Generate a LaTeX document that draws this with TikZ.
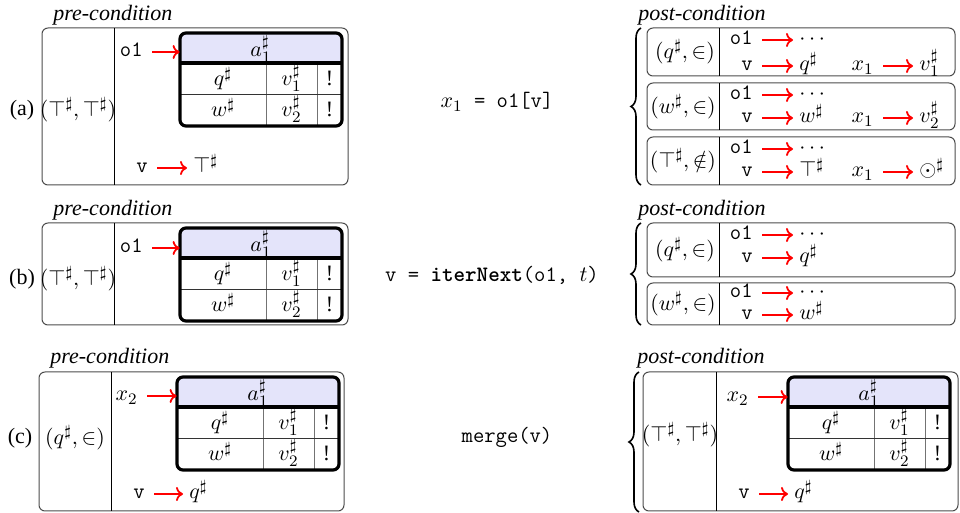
\documentclass[tikz,border=0pt]{standalone}
\usepackage{fontspec}
\setmainfont{Liberation Serif}
\usetikzlibrary{decorations.pathreplacing,arrows.meta}
\definecolor{hdrblue}{RGB}{228,228,250}
\tikzset{
  ttl/.style={font=\fontsize{11}{13}\selectfont\itshape, inner sep=0pt, anchor=west},
  cell/.style={inner sep=0pt, text height=7pt, text depth=2pt},
  hdr/.style={inner sep=0pt, minimum width=81pt, minimum height=15pt},
  var/.style={inner xsep=4.5pt, inner ysep=0pt, text height=7pt, text depth=2pt, anchor=east},
  val/.style={inner xsep=3pt, inner ysep=0pt, text height=7pt, text depth=2pt, anchor=west},
  ptr/.style={red, line width=0.9pt, -{To[length=3.5pt, width=7pt]}},
  box/.style={draw=black!70, rounded corners=3pt, line width=0.5pt},
  frame/.style={line width=1.6pt},
  grid/.style={draw=black!55, line width=0.4pt},
  rowline/.style={draw=black!80, line width=0.5pt},
  brc/.style={decorate, decoration={brace, amplitude=5pt}, line width=0.8pt}
}
% table of the abstract heap cell
\newcommand{\heaptab}[3]{%
  \begin{scope}[shift={(#2,#3)}]
    \begin{scope}
      \clip[rounded corners=3pt] (0,0) rectangle (162,93);
      \fill[hdrblue] (0,0) rectangle (162,30);
    \end{scope}
    \node[hdr] (#1) at (81,15) {};
    \node[cell] (#1a) at (81,19) {$a_1^\sharp$};
    \node[cell] (#1q) at (43,48) {$q^\sharp$};
    \node[cell] (#1v1) at (111.5,48) {$v_1^\sharp$};
    \node[cell] (#1e1) at (149.5,48) {!};
    \node[cell] (#1w) at (43,79) {$w^\sharp$};
    \node[cell] (#1v2) at (111.5,79) {$v_2^\sharp$};
    \node[cell] (#1e2) at (149.5,79) {!};
    \draw[grid] (86,30) -- (86,93) (137,30) -- (137,93);
    \draw[rowline] (0,61.5) -- (162,61.5);
    \draw[frame] (0,30) -- (162,30);
    \draw[frame, rounded corners=3pt] (0,0) rectangle (162,93);
  \end{scope}}
\begin{document}
\begin{tikzpicture}[x=0.5pt, y=-0.5pt, font=\fontsize{11}{13}\selectfont]
\useasboundingbox (0,0) rectangle (960,513);

% (a) pre-condition
\node[ttl] (preA) at (53,15) {pre-condition};
\draw[box] (42,28) rectangle (348,185);
\draw (114,28) -- (114,185);
\node (tagA) at (22,110) {(a)};
\node (condA) at (78,110) {$(\top^\sharp,\top^\sharp)$};
\heaptab{tA}{180}{33}
\node[var] (oA) at (152,52) {\texttt{o1}};
\draw[ptr] (oA) -- (oA -| tA.west);
\node[var] (vA) at (157,168) {\texttt{v}};
\node[val] (topA) at (187,168) {$\top^\sharp$};
\draw[ptr] (vA) -- (topA);

% (a) statement
\node (stmtA) at (497,102) {$x_1$\texttt{ = o1[v]}};

% (a) post-condition
\node[ttl] (postA) at (638,15) {post-condition};
\draw[brc] (641,185) -- (641,28);
\draw[box] (647,28) rectangle (955,76);
\draw[box] (647,83) rectangle (955,130);
\draw[box] (647,137) rectangle (955,185);
\draw (719,28) -- (719,76) (719,83) -- (719,130) (719,137) -- (719,185);
\node (cA1) at (685,52) {$(q^\sharp,\in)$};
\node (cA2) at (683,107) {$(w^\sharp,\in)$};
\node[inner sep=1pt] (cA3) at (683,161) {$(\top^\sharp,\notin)$};
% first case
\node[var] (oA1) at (762,40) {\texttt{o1}};
\node[val] (dA1) at (793,40) {$\cdots$};
\draw[ptr] (oA1) -- (dA1);
\node[var] (vA1) at (762,66) {\texttt{v}};
\node[val] (qA1) at (793,66) {$q^\sharp$};
\draw[ptr] (vA1) -- (qA1);
\node[var] (xA1) at (883,66) {$x_1$};
\node[val] (rA1) at (913,66) {$v_1^\sharp$};
\draw[ptr] (xA1) -- (rA1);
% second case
\node[var] (oA2) at (762,95) {\texttt{o1}};
\node[val] (dA2) at (793,95) {$\cdots$};
\draw[ptr] (oA2) -- (dA2);
\node[var] (vA2) at (762,118) {\texttt{v}};
\node[val] (qA2) at (793,118) {$w^\sharp$};
\draw[ptr] (vA2) -- (qA2);
\node[var] (xA2) at (883,118) {$x_1$};
\node[val] (rA2) at (913,118) {$v_2^\sharp$};
\draw[ptr] (xA2) -- (rA2);
% third case
\node[var] (oA3) at (762,149) {\texttt{o1}};
\node[val] (dA3) at (793,149) {$\cdots$};
\draw[ptr] (oA3) -- (dA3);
\node[var] (vA3) at (762,172) {\texttt{v}};
\node[val] (qA3) at (793,172) {$\top^\sharp$};
\draw[ptr] (vA3) -- (qA3);
\node[var] (xA3) at (883,172) {$x_1$};
\node[val] (rA3) at (913,172) {$\odot^\sharp$};
\draw[ptr] (xA3) -- (rA3);

% (b) pre-condition
\node[ttl] (preB) at (53,210) {pre-condition};
\draw[box] (42,223) rectangle (348,325);
\draw (114,223) -- (114,325);
\node (tagB) at (22,279) {(b)};
\node (condB) at (78,279) {$(\top^\sharp,\top^\sharp)$};
\heaptab{tB}{180}{228}
\node[var] (oB) at (152,248) {\texttt{o1}};
\draw[ptr] (oB) -- (oB -| tB.west);

% (b) statement
\node (stmtB) at (492,275) {\texttt{v = \textbf{iterNext}(o1, }$t$\texttt{)}};

% (b) post-condition
\node[ttl] (postB) at (638,210) {post-condition};
\draw[brc] (641,325) -- (641,223);
\draw[box] (647,223) rectangle (955,277);
\draw[box] (647,283) rectangle (955,325);
\draw (719,223) -- (719,277) (719,283) -- (719,325);
\node (cB1) at (685,250) {$(q^\sharp,\in)$};
\node (cB2) at (683,304) {$(w^\sharp,\in)$};
\node[var] (oB1) at (762,235) {\texttt{o1}};
\node[val] (dB1) at (793,235) {$\cdots$};
\draw[ptr] (oB1) -- (dB1);
\node[var] (vB1) at (762,258) {\texttt{v}};
\node[val] (qB1) at (793,258) {$q^\sharp$};
\draw[ptr] (vB1) -- (qB1);
\node[var] (oB2) at (762,293) {\texttt{o1}};
\node[val] (dB2) at (793,293) {$\cdots$};
\draw[ptr] (oB2) -- (dB2);
\node[var] (vB2) at (762,315) {\texttt{v}};
\node[val] (qB2) at (793,315) {$w^\sharp$};
\draw[ptr] (vB2) -- (qB2);

% (c) pre-condition
\node[ttl] (preC) at (50,358) {pre-condition};
\draw[box] (39,372) rectangle (344,511);
\draw (111,372) -- (111,511);
\node (tagC) at (20,438) {(c)};
\node (condC) at (75,438) {$(q^\sharp,\in)$};
\heaptab{tC}{177}{377}
\node[var] (xC) at (147,396) {$x_2$};
\draw[ptr] (xC) -- (xC -| tC.west);
\node[var] (vC) at (154,494) {\texttt{v}};
\node[val] (qC) at (183,494) {$q^\sharp$};
\draw[ptr] (vC) -- (qC);

% (c) statement
\node (stmtC) at (507,437) {\texttt{merge(v)}};

% (c) post-condition
\node[ttl] (postC) at (637,358) {post-condition};
\draw[brc] (639,512) -- (639,372);
\draw[box] (643,372) rectangle (958,511);
\draw (716,372) -- (716,511);
\node (condD) at (680,435) {$(\top^\sharp,\top^\sharp)$};
\heaptab{tD}{788}{377}
\node[var] (xD) at (758,397) {$x_2$};
\draw[ptr] (xD) -- (xD -| tD.west);
\node[var] (vD) at (759,494) {\texttt{v}};
\node[val] (qD) at (788,494) {$q^\sharp$};
\draw[ptr] (vD) -- (qD);
\end{tikzpicture}
\end{document}
